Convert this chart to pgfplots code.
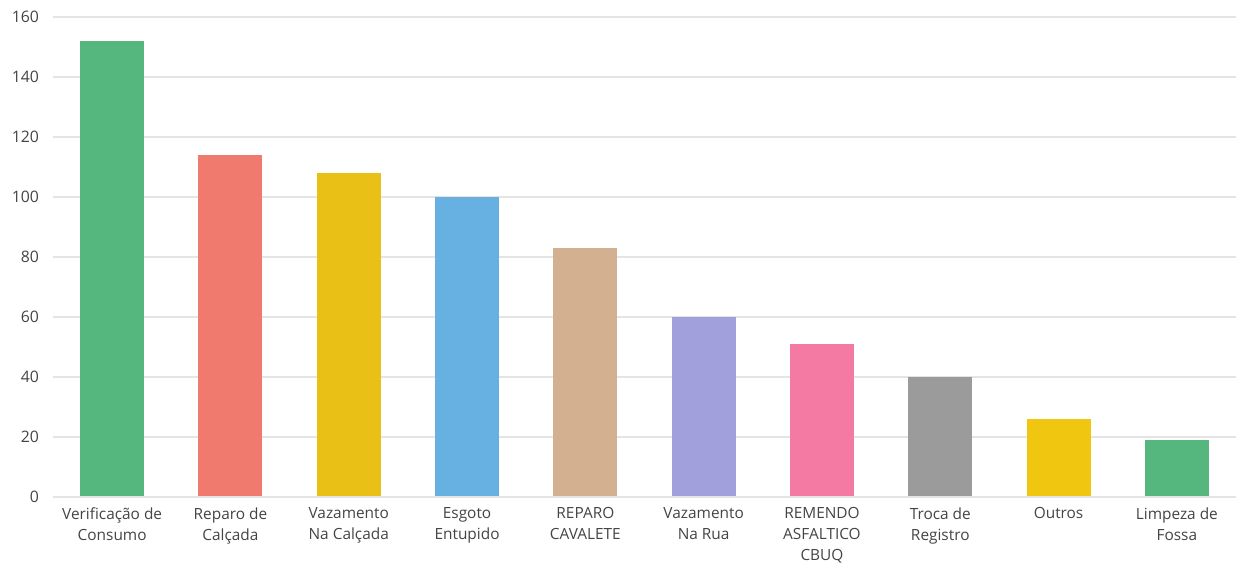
\documentclass[border=0pt]{standalone}
\usepackage{fontspec}
\setmainfont{Open Sans}
\usepackage{pgfplots}
\pgfplotsset{compat=1.18}
\definecolor{cgreen}{RGB}{85,183,125}
\definecolor{csalmon}{RGB}{239,122,109}
\definecolor{cyellow}{RGB}{233,193,22}
\definecolor{cblue}{RGB}{102,176,226}
\definecolor{ctan}{RGB}{211,176,143}
\definecolor{clav}{RGB}{162,160,220}
\definecolor{cpink}{RGB}{245,122,163}
\definecolor{cgrey}{RGB}{155,155,155}
\definecolor{cyellow2}{RGB}{240,198,16}
\definecolor{gridc}{RGB}{228,228,228}
\definecolor{txt}{RGB}{68,68,68}
\begin{document}
\begin{tikzpicture}
\begin{axis}[
  at={(0,0)}, anchor=south west,
  scale only axis,
  width=591.5pt, height=240pt,
  xmin=-0.5, xmax=9.5,
  ymin=0, ymax=160,
  ytick={0,20,...,160},
  xtick={0,...,9},
  xticklabels={{Verificação de\\Consumo},{Reparo de\\Calçada},{Vazamento\\Na Calçada},{Esgoto\\Entupido},{REPARO\\CAVALETE},{Vazamento\\Na Rua},{REMENDO\\ASFALTICO\\CBUQ},{Troca de\\Registro},{Outros},{Limpeza de\\Fossa}},
  xticklabel style={align=center, font=\fontsize{7.7}{10.5}\selectfont, text=txt, anchor=north, yshift=-1.8pt},
  yticklabel style={font=\fontsize{7.9}{8}\selectfont, text=txt, xshift=-3.5pt},
  /pgf/number format/assume math mode=true,
  major tick length=0pt,
  axis line style={draw=none},
  ymajorgrids, grid style={gridc, line width=0.6pt},
  ybar, bar width=32pt, bar shift=0pt,
  every axis plot/.append style={draw=none},
  clip=false,
]
\addplot[fill=cgreen] coordinates {(0,152)};
\addplot[fill=csalmon] coordinates {(1,114)};
\addplot[fill=cyellow] coordinates {(2,108)};
\addplot[fill=cblue] coordinates {(3,100)};
\addplot[fill=ctan] coordinates {(4,83)};
\addplot[fill=clav] coordinates {(5,60)};
\addplot[fill=cpink] coordinates {(6,51)};
\addplot[fill=cgrey] coordinates {(7,40)};
\addplot[fill=cyellow2] coordinates {(8,26)};
\addplot[fill=cgreen] coordinates {(9,19)};
\draw[gridc, line width=0.6pt] (rel axis cs:0,0) -- (rel axis cs:1,0);
\end{axis}
\pgfresetboundingbox
\path (-26.5pt,-34pt) rectangle (591.5pt,248.5pt);
\end{tikzpicture}
\end{document}
